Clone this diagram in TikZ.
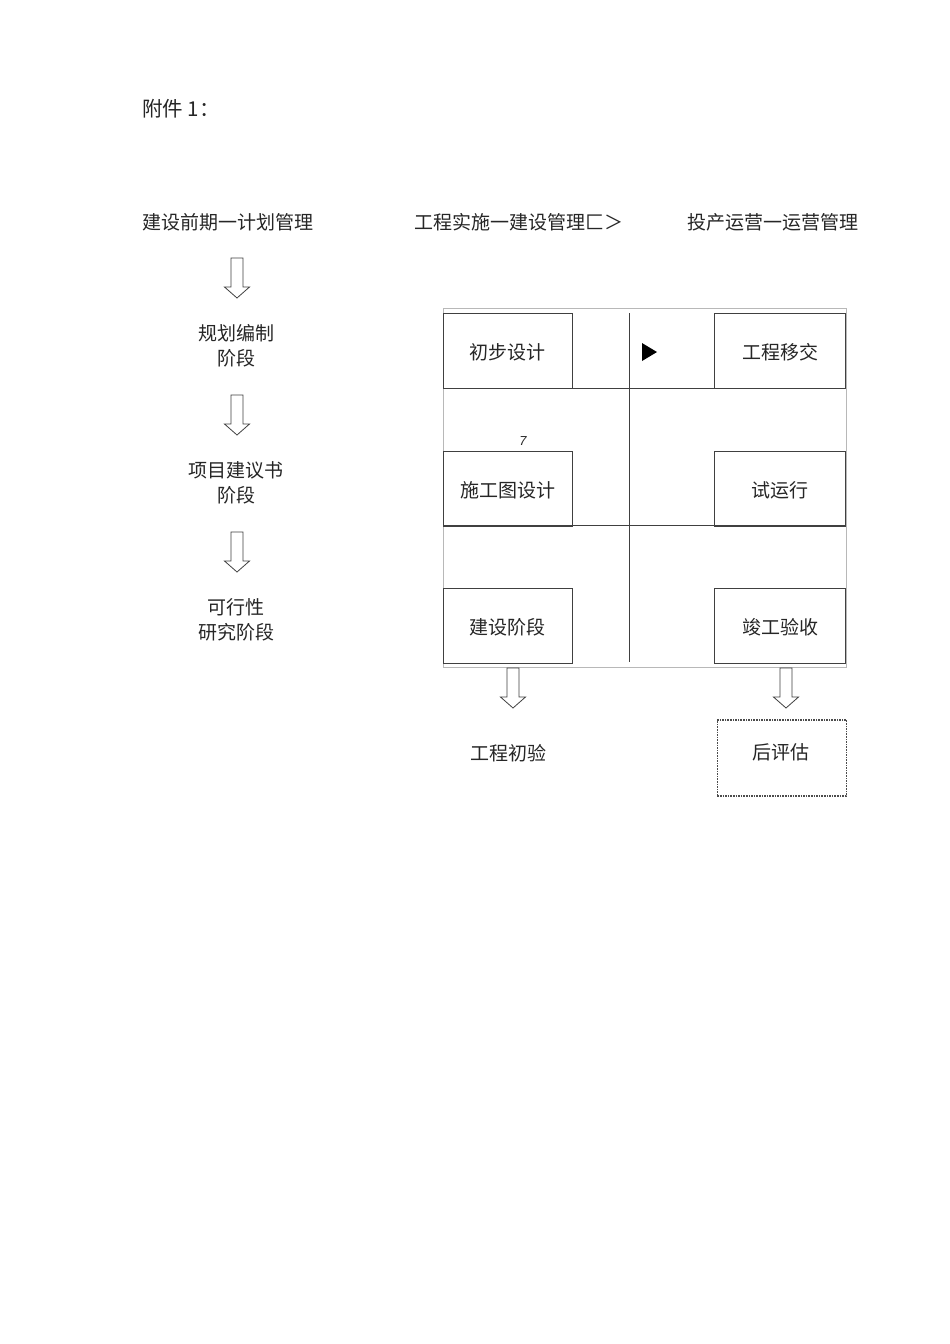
\documentclass[tikz,border=0pt]{standalone}
\usepackage{fontspec}
\setmainfont{Noto Sans CJK SC}
\newfontfamily\latinf{Liberation Sans}
\begin{document}
\begin{tikzpicture}[x=1pt,y=-1pt,
  txt/.style={font=\fontsize{19}{25}\selectfont, text=black!85, inner sep=0pt, align=center},
  stagebox/.style={draw=black!75, line width=0.8pt, minimum width=129pt, minimum height=75pt, inner sep=0pt, font=\fontsize{19}{25}\selectfont, text=black!85, text height=20pt, text depth=3pt},
  gridline/.style={draw=black!75, line width=0.8pt},
  harrow/.pic={\draw[black!75, line width=0.8pt, fill=white] (-6,0) -- (6,0) -- (6,29) -- (12.5,29) -- (0,40) -- (-12.5,29) -- (-6,29) -- cycle;}
]
\useasboundingbox[fill=white] (0,0) rectangle (950,1344);

% title
\node[txt, anchor=west, font=\fontsize{20.5}{22}\selectfont] (title) at (142,109) {附件 1：};

% headers
\node[txt, anchor=west] (h1) at (142,222) {建设前期一计划管理};
\node[txt, anchor=west] (h2) at (414,222) {工程实施一建设管理匚＞};
\node[txt, anchor=west] (h3) at (687,222) {投产运营一运营管理};

% left column
\pic at (237,258) {harrow};
\node[txt] (l1) at (236,346) {规划编制\\阶段};
\pic at (237,395) {harrow};
\node[txt] (l2) at (236,483) {项目建议书\\阶段};
\pic at (237,532) {harrow};
\node[txt] (l3) at (236,620) {可行性\\研究阶段};

% outer frame
\draw[black!28, line width=0.8pt] (443,308) rectangle (846.5,667.5);

% grid lines
\draw[gridline] (443,388) -- (846,388);
\draw[gridline] (443,525) -- (846,525);
\draw[gridline] (629,313) -- (629,662);

% boxes
\node[stagebox, anchor=north west] (b1) at (443,313) {初步设计};
\node[stagebox, anchor=north west] (b2) at (443,451) {施工图设计};
\node[stagebox, anchor=north west] (b3) at (443,588) {建设阶段};
\node[stagebox, anchor=north east, minimum width=131pt] (b4) at (846,313) {工程移交};
\node[stagebox, anchor=north east, minimum width=131pt] (b5) at (846,451) {试运行};
\node[stagebox, anchor=north east, minimum width=131pt] (b6) at (846,588) {竣工验收};

% marks
\fill[black] (642,343) -- (657,352) -- (642,361) -- cycle;
\node[inner sep=0pt, font=\latinf\itshape\fontsize{13}{14}\selectfont, text=black!85] (seven) at (523,441) {7};

% bottom arrows
\pic at (513,668) {harrow};
\pic at (786,668) {harrow};
\node[txt] (e1) at (508,753) {工程初验};
\node[draw=black!70, densely dotted, line width=1.6pt, minimum width=129pt, minimum height=76pt, inner sep=0pt, anchor=north west] (e2) at (716.5,719) {};
\node[txt] (e2t) at (781,752) {后评估};
\end{tikzpicture}
\end{document}
